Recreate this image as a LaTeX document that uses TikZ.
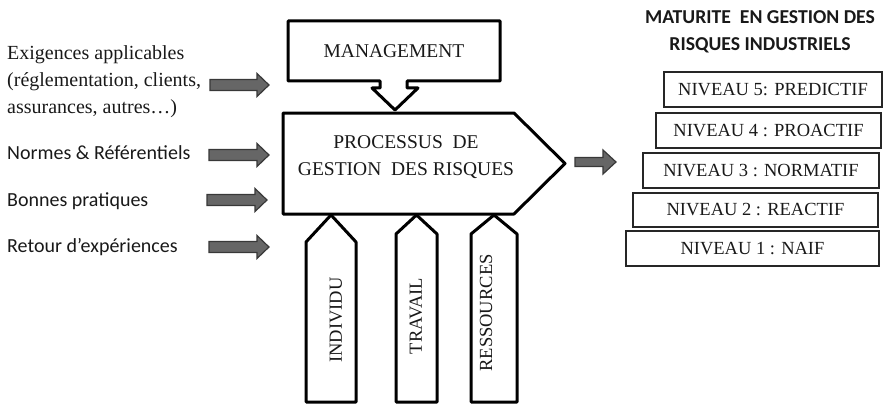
\documentclass[tikz,border=0pt]{standalone}
\usepackage{fontspec}
\setmainfont{Liberation Serif}
\newfontfamily\calibri{Carlito}
\begin{document}
\begin{tikzpicture}[x=1pt,y=-1pt,
  thickshape/.style={draw=black, line width=3pt, line join=round, fill=white},
  lvl/.style={draw=black!85, line width=1.1pt, inner sep=0pt, font=\fontsize{18.5}{22}\selectfont, text=black!90},
  sertext/.style={font=\fontsize{19.5}{27}\selectfont, text=black!90, inner sep=0pt, align=center},
  lefttext/.style={anchor=west, inner sep=0pt, text=black!90},
  garrowstyle/.style={fill=black!60, draw=black!78, line width=1.2pt, line join=miter}
]
\useasboundingbox (0,0) rectangle (884,404);

% gray block arrow: x start, x end, y center, shaft half, head half, head length
\newcommand\garrow[6]{%
  \path[garrowstyle] (#1,#3-#4) -- (#2-#6,#3-#4) -- (#2-#6,#3-#5) -- (#2,#3)
     -- (#2-#6,#3+#5) -- (#2-#6,#3+#4) -- (#1,#3+#4) -- cycle;}

% left texts
\node[lefttext, align=left, font=\fontsize{20}{27}\selectfont] (exig) at (7,82)
  {Exigences applicables\\(réglementation, clients,\\assurances, autres…)};
\node[lefttext, font=\calibri\fontsize{20}{24}\selectfont] (norm) at (7,153) {Normes \& Référentiels};
\node[lefttext, font=\calibri\fontsize{20}{24}\selectfont] (bonn) at (7,201) {Bonnes pratiques};
\node[lefttext, font=\calibri\fontsize{20}{24}\selectfont] (reto) at (7,247) {Retour d’expériences};

% gray input arrows
\garrow{210}{269}{85}{5.5}{11.5}{12}
\garrow{209}{269}{155}{5.5}{11.5}{12}
\garrow{207}{267}{200}{5.5}{11.5}{12}
\garrow{209}{269}{247}{5.5}{11.5}{12}
% output arrow
\garrow{575}{616}{162}{4.5}{12}{13}

% management box with down arrow
\path[thickshape] (288,21) -- (500,21) -- (500,81) -- (407,81) -- (407,88) -- (418,88)
  -- (395,110) -- (372,88) -- (380,88) -- (380,81) -- (288,81) -- cycle;
\node[sertext] (mgmt) at (394,51) {MANAGEMENT};

% process pentagon
\path[thickshape] (283,113) -- (514,113) -- (565,163.5) -- (514,214) -- (283,214) -- cycle;
\node[sertext] (proc) at (406,157) {PROCESSUS\ \ DE\\GESTION\ \ DES RISQUES};

% pillars
\path[thickshape] (306,402) -- (306,242) -- (331,215) -- (356,242) -- (356,402) -- cycle;
\path[thickshape] (396,402) -- (396,234) -- (416.5,215) -- (437,234) -- (437,402) -- cycle;
\path[thickshape] (471,402) -- (471,234) -- (494,215) -- (517,234) -- (517,402) -- cycle;
\node[sertext, rotate=90, font=\fontsize{18.5}{22}\selectfont] (indiv) at (336,320) {INDIVIDU};
\node[sertext, rotate=90, font=\fontsize{18.5}{22}\selectfont] (trav) at (416,316) {TRAVAIL};
\node[sertext, rotate=90, font=\fontsize{18.5}{22}\selectfont] (ress) at (486,313) {RESSOURCES};

% title
\node[inner sep=0pt, align=center, text=black!90, font=\calibri\bfseries\fontsize{19.7}{27}\selectfont] (title) at (760,31.5)
  {MATURITE\ \ EN GESTION DES\\RISQUES INDUSTRIELS};

% level boxes
\node[lvl, minimum width=218pt, minimum height=35pt] (n5) at (773,89.5) {NIVEAU 5: PREDICTIF};
\node[lvl, minimum width=225pt, minimum height=35pt] (n4) at (768.5,130.5) {NIVEAU 4 : PROACTIF};
\node[lvl, minimum width=236pt, minimum height=35pt] (n3) at (761,170.5) {NIVEAU 3 : NORMATIF};
\node[lvl, minimum width=245pt, minimum height=34pt] (n2) at (755.5,210) {NIVEAU 2 : REACTIF};
\node[lvl, minimum width=253pt, minimum height=35pt] (n1) at (752.5,248.5) {NIVEAU 1 : NAIF};
\end{tikzpicture}
\end{document}
